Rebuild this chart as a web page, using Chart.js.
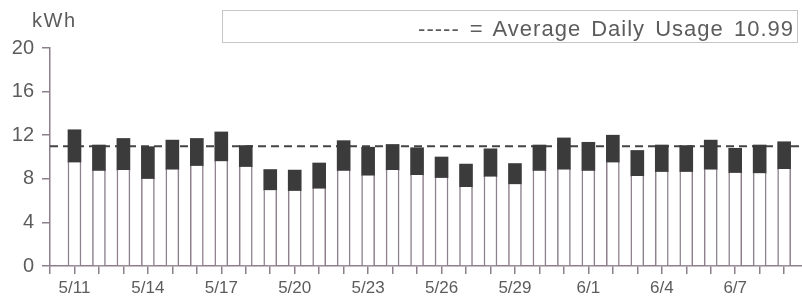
<!DOCTYPE html>
<html>
<head>
<meta charset="utf-8">
<script src="https://cdn.jsdelivr.net/npm/chart.js@4.4.1/dist/chart.umd.min.js"></script>
<style>
  body { margin: 0; background: #fff; }
  #wrap { position: relative; width: 802px; height: 296px; }
  #unit { position: absolute; left: 32px; top: 10px; font-family: 'Liberation Sans', Arial, sans-serif; font-size: 20px; line-height: 20px; letter-spacing: 1.5px; color: #5c5c5c; }
  #avgBox { position: absolute; left: 222px; top: 10px; width: 576px; height: 33px; box-sizing: border-box; border: 1px solid #c6c6c6; }
  #avgText { position: absolute; right: 8px; top: 18px; font-family: 'Liberation Sans', Arial, sans-serif; font-size: 22px; line-height: 22px; letter-spacing: 1px; word-spacing: 3px; color: #5c5c5c; white-space: nowrap; }
</style>
</head>
<body>
<div id="wrap">
  <canvas id="usageChart"></canvas>
  <div id="unit">kWh</div>
  <div id="avgBox"></div>
  <div id="avgText">----- = Average Daily Usage 10.99</div>
</div>
<script>
// daily usage, kWh
const dates = ['5/11','5/12','5/13','5/14','5/15','5/16','5/17','5/18','5/19','5/20',
               '5/21','5/22','5/23','5/24','5/25','5/26','5/27','5/28','5/29','5/30',
               '5/31','6/1','6/2','6/3','6/4','6/5','6/6','6/7','6/8','6/9'];
const offPeak = [9.5, 8.75, 8.8, 8.0, 8.85, 9.2, 9.6, 9.1, 6.95, 6.9,
                 7.1, 8.75, 8.3, 8.8, 8.35, 8.1, 7.25, 8.2, 7.5, 8.75,
                 8.85, 8.75, 9.5, 8.25, 8.65, 8.65, 8.85, 8.55, 8.5, 8.9];
const onPeak = [3.0, 2.35, 2.9, 2.95, 2.7, 2.5, 2.7, 1.95, 1.9, 1.9,
                2.35, 2.75, 2.6, 2.35, 2.5, 1.9, 2.1, 2.55, 1.9, 2.35,
                2.9, 2.6, 2.5, 2.35, 2.45, 2.4, 2.7, 2.25, 2.6, 2.5];
const averageUsage = 10.99;
const yMax = 20;
const yStep = 4;
const xMax = 30.73; // axis runs a bit past the last day

const axisColor = '#8d7f8c';
const textColor = '#5c5c5c';
const font = 'Liberation Sans, Arial, sans-serif';

const ctx = document.getElementById('usageChart').getContext('2d');

new Chart(ctx, {
    data: {
        datasets: [
            {
                type: 'bar',
                label: 'Off-peak',
                data: offPeak.map((v, i) => ({ x: i + 1, y: v })),
                backgroundColor: '#ffffff',
                borderColor: axisColor,
                borderWidth: { left: 1.5, right: 1.5, top: 0, bottom: 0 },
                borderSkipped: false,
                barThickness: 13
            },
            {
                type: 'bar',
                label: 'On-peak',
                data: onPeak.map((v, i) => ({ x: i + 1, y: v })),
                backgroundColor: '#3b3b3b',
                borderWidth: 0,
                barThickness: 13
            },
            {
                type: 'line',
                label: 'Average',
                stack: 'avg',
                data: [{ x: 0, y: averageUsage }, { x: xMax, y: averageUsage }],
                borderColor: '#444444',
                borderWidth: 2,
                borderDash: [8, 5],
                pointRadius: 0,
                order: 1
            }
        ]
    },
    options: {
        responsive: true,
        maintainAspectRatio: false,
        animation: false,
        layout: { padding: { top: 48, left: 0, right: 0, bottom: 0 } },
        plugins: { legend: { display: false }, tooltip: { enabled: false } },
        scales: {
            x: {
                type: 'linear',
                stacked: true,
                offset: false,
                min: 0,
                max: xMax,
                afterBuildTicks: (scale) => {
                    scale.ticks = [{ value: 0 }].concat(dates.map((d, i) => ({ value: i + 1 })));
                },
                afterFit: (scale) => { scale.height = 30; },
                grid: { drawOnChartArea: false, offset: false, color: axisColor, tickLength: 8, lineWidth: 1.5 },
                border: { color: axisColor, width: 1.5 },
                ticks: {
                    autoSkip: false,
                    maxRotation: 0,
                    padding: 4,
                    color: textColor,
                    font: { family: font, size: 17 },
                    callback: (v) => (v % 3 === 1 ? dates[v - 1] : '')
                }
            },
            y: {
                stacked: true,
                min: 0,
                max: yMax,
                afterFit: (scale) => { scale.width = 50; },
                grid: { drawOnChartArea: false, color: axisColor, tickLength: 8, lineWidth: 1.5 },
                border: { color: axisColor, width: 1.5 },
                ticks: {
                    stepSize: yStep,
                    padding: 8,
                    color: textColor,
                    font: { family: font, size: 20 }
                }
            }
        }
    }
});
</script>
</body>
</html>
